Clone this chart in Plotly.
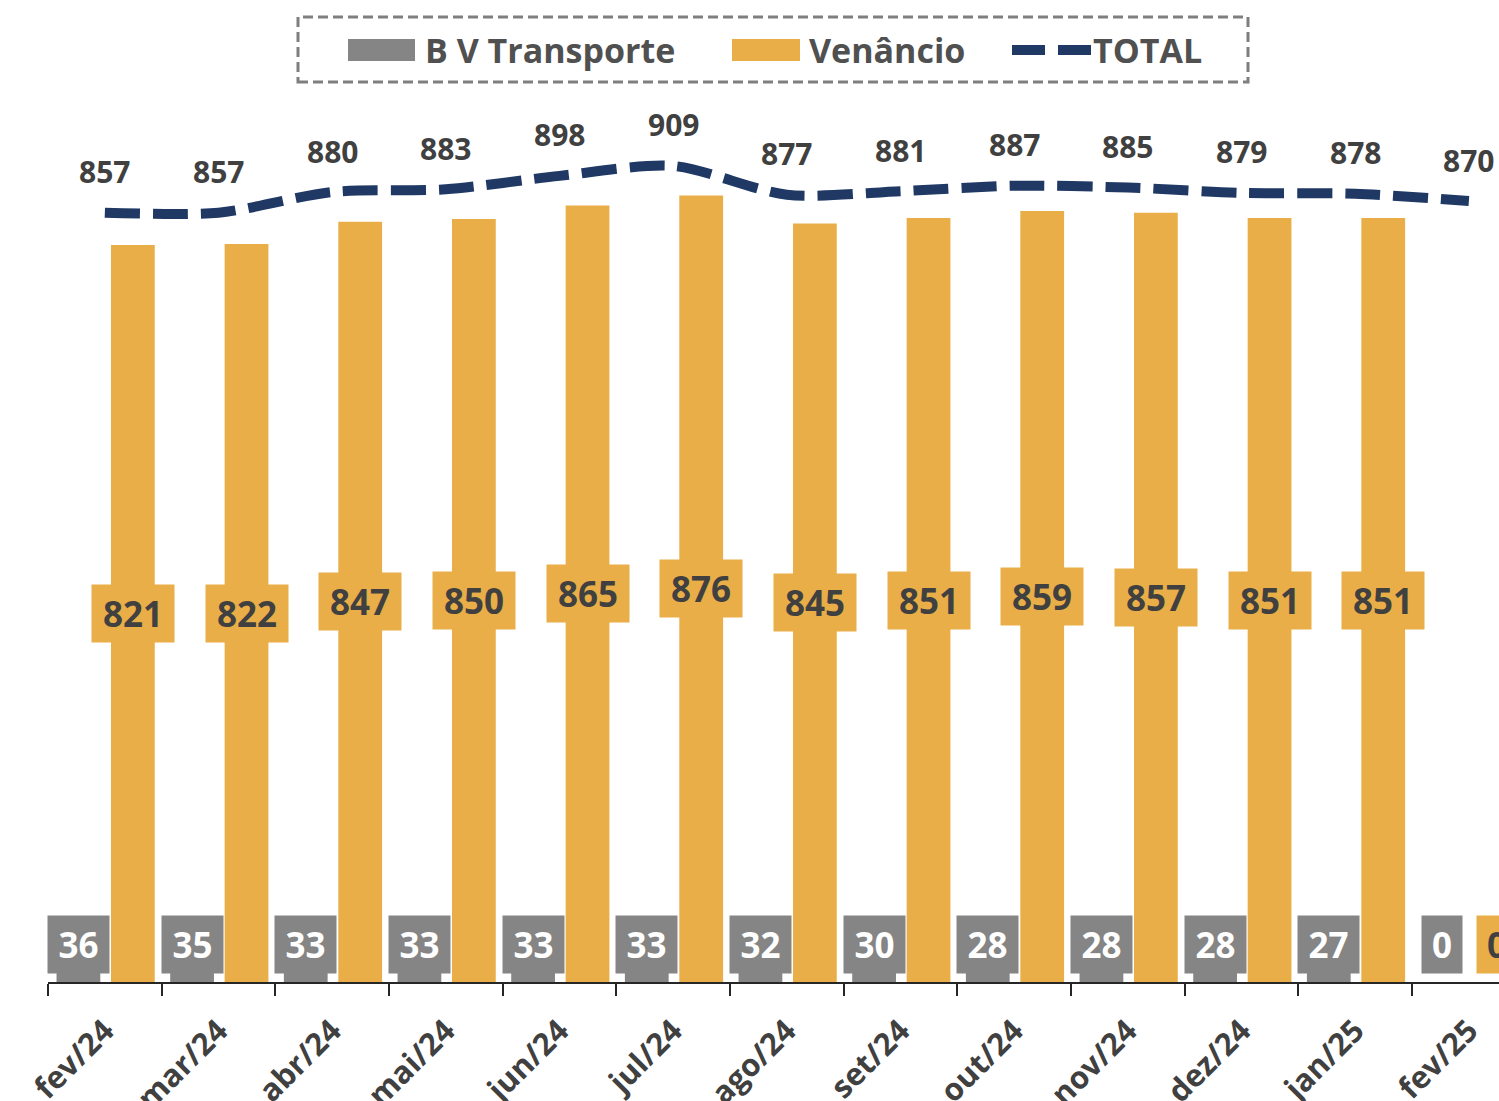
import plotly.graph_objects as go

categories = ["fev/24", "mar/24", "abr/24", "mai/24", "jun/24", "jul/24", "ago/24",
              "set/24", "out/24", "nov/24", "dez/24", "jan/25", "fev/25"]
bv_transporte = [36, 35, 33, 33, 33, 33, 32, 30, 28, 28, 28, 27, 0]
venancio = [821, 822, 847, 850, 865, 876, 845, 851, 859, 857, 851, 851, 0]
total = [857, 857, 880, 883, 898, 909, 877, 881, 887, 885, 879, 878, 870]

GRAY = "#858585"
ORANGE = "#E9AE47"
NAVY = "#1F3864"
TXT = "#404040"
FONT = "Open Sans"

W_FIG, H_FIG = 1499, 1101
ML, MR, MT, MB = 48, 0, 100, 119
PX_PER_CAT = 113.67
X_MAX = -0.5 + (W_FIG - ML - MR) / PX_PER_CAT
Y_MAX = (H_FIG - MB - MT) / 0.8977

BW = 0.385
GRAY_OFF = -0.425
ORANGE_OFF = 0.054

fig = go.Figure()
fig.add_bar(x=categories, y=bv_transporte, width=BW, offset=GRAY_OFF,
            marker=dict(color=GRAY, line=dict(width=0)), name="B V Transporte")
fig.add_bar(x=categories, y=venancio, width=BW, offset=ORANGE_OFF,
            marker=dict(color=ORANGE, line=dict(width=0)), name="Venâncio")
fig.add_scatter(x=categories, y=total, mode="lines", name="TOTAL",
                line=dict(color=NAVY, width=10, dash="35px,13px",
                          shape="spline", smoothing=0.8))

annotations = []
gc = GRAY_OFF + BW / 2
oc = ORANGE_OFF + BW / 2
for i, (g, o, t) in enumerate(zip(bv_transporte, venancio, total)):
    annotations.append(dict(
        x=i + gc, y=0, xref="x", yref="y", yanchor="bottom", yshift=8,
        text=str(g), showarrow=False, bgcolor=GRAY,
        width=17 + 21 * len(str(g)), height=55,
        font=dict(family=FONT, size=35, color="white", weight="bold")))
    if o > 0:
        annotations.append(dict(
            x=i + oc, y=o / 2, xref="x", yref="y", yanchor="middle",
            text=str(o), showarrow=False, bgcolor=ORANGE,
            width=17 + 21 * len(str(o)), height=55,
            font=dict(family=FONT, size=35, color=TXT, weight="bold")))
    else:
        annotations.append(dict(
            x=i + oc, y=0, xref="x", yref="y", yanchor="bottom", yshift=8,
            text=str(o), showarrow=False, bgcolor=ORANGE,
            width=17 + 21 * len(str(o)), height=55,
            font=dict(family=FONT, size=35, color=TXT, weight="bold")))
    annotations.append(dict(
        x=i, y=t, xref="x", yref="y", yanchor="middle", yshift=41,
        text=str(t), showarrow=False,
        font=dict(family=FONT, size=30, color=TXT, weight="bold")))


def px(xp):
    return (xp - ML) / (W_FIG - ML - MR)


def py(yp):
    return (H_FIG - MB - yp) / (H_FIG - MB - MT)


shapes = [
    dict(type="rect", xref="paper", yref="paper", x0=px(298), x1=px(1248),
         y0=py(82), y1=py(17), line=dict(color="#7F7F7F", width=3, dash="10px,5px"),
         fillcolor="rgba(0,0,0,0)", layer="above"),
    dict(type="rect", xref="paper", yref="paper", x0=px(348), x1=px(415),
         y0=py(61), y1=py(39), line=dict(width=0), fillcolor=GRAY),
    dict(type="rect", xref="paper", yref="paper", x0=px(732), x1=px(800),
         y0=py(61), y1=py(39), line=dict(width=0), fillcolor=ORANGE),
    dict(type="line", xref="paper", yref="paper", x0=px(1012), x1=px(1092),
         y0=py(50), y1=py(50), line=dict(color=NAVY, width=10, dash="33px,13px")),
]
legend_items = [("B V Transporte", 423), ("Venâncio", 807), ("TOTAL", 1091)]
for text, xp in legend_items:
    annotations.append(dict(
        x=px(xp), y=py(50), xref="paper", yref="paper", xanchor="left",
        yanchor="middle", text=text, showarrow=False,
        font=dict(family=FONT, size=34, color="#505050", weight="bold")))

fig.update_layout(
    width=W_FIG, height=H_FIG,
    margin=dict(l=ML, r=MR, t=MT, b=MB, pad=0, autoexpand=False),
    paper_bgcolor="white", plot_bgcolor="white",
    barmode="overlay", showlegend=False,
    annotations=annotations, shapes=shapes,
    xaxis=dict(type="category", categoryorder="array", categoryarray=categories,
               range=[-0.5, X_MAX], tickson="boundaries", ticks="outside",
               ticklen=12, tickwidth=2, tickcolor="#262626",
               showline=True, linecolor="#262626", linewidth=2,
               showgrid=False, zeroline=False, tickangle=-45,
               automargin=False, ticklabelstandoff=16,
               tickfont=dict(family=FONT, size=31, color=TXT, weight="bold")),
    yaxis=dict(range=[0, Y_MAX], visible=False, showgrid=False, zeroline=False,
               automargin=False),
)

fig.write_html("out.html", config={"displayModeBar": False},
               post_script="document.body.style.margin='0';document.body.style.overflow='hidden';")
